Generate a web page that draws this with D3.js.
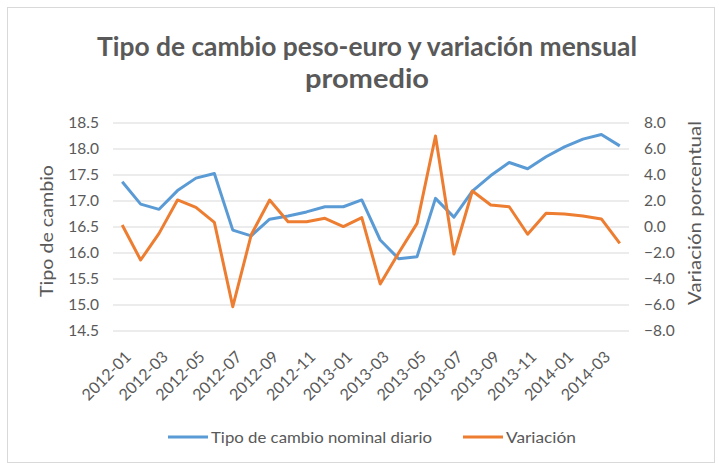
<!DOCTYPE html>
<html lang="es">
<head>
  <meta charset="UTF-8">
  <title>Tipo de cambio peso-euro</title>
  <script src="https://d3js.org/d3.v7.min.js"></script>
  <style>
    body { margin: 0; background: #fff; }
    text { font-family: Lato, "Open Sans", sans-serif; fill: #595959; }
  </style>
</head>
<body>
  <div id="chart"></div>
  <script>
    // months 2012-01 .. 2014-04
    const months = [
      "2012-01", "2012-02", "2012-03", "2012-04", "2012-05", "2012-06", "2012-07",
      "2012-08", "2012-09", "2012-10", "2012-11", "2012-12", "2013-01", "2013-02",
      "2013-03", "2013-04", "2013-05", "2013-06", "2013-07", "2013-08", "2013-09",
      "2013-10", "2013-11", "2013-12", "2014-01", "2014-02", "2014-03", "2014-04"
    ];
    const tipoCambio = [
      17.37, 16.94, 16.84, 17.20, 17.44, 17.53, 16.44, 16.33, 16.65, 16.71,
      16.79, 16.89, 16.89, 17.02, 16.25, 15.89, 15.93, 17.05, 16.69, 17.19,
      17.49, 17.74, 17.62, 17.85, 18.04, 18.19, 18.28, 18.06
    ];
    const variacion = [
      0.15, -2.54, -0.49, 2.08, 1.51, 0.36, -6.13, -0.6, 2.08, 0.41,
      0.41, 0.67, 0.03, 0.72, -4.38, -2.0, 0.28, 7.0, -2.08, 2.77,
      1.69, 1.56, -0.56, 1.05, 1.0, 0.85, 0.62, -1.26
    ];
    const leftTicks = [14.5, 15.0, 15.5, 16.0, 16.5, 17.0, 17.5, 18.0, 18.5];
    const rightTicks = [-8, -6, -4, -2, 0, 2, 4, 6, 8];
    const seriesNames = ["Tipo de cambio nominal diario", "Variación"];

    const W = 719, H = 463;
    const margin = { top: 123, right: 90, bottom: 132, left: 113 };
    const width = W - margin.left - margin.right;
    const height = H - margin.top - margin.bottom;

    const svg = d3.select("#chart").append("svg")
      .attr("width", W)
      .attr("height", H);

    // chart frame
    svg.append("rect")
      .attr("x", 7.5).attr("y", 7.5)
      .attr("width", W - 12).attr("height", H - 8)
      .attr("fill", "#fff")
      .attr("stroke", "#d9d9d9");

    const g = svg.append("g")
      .attr("transform", `translate(${margin.left},${margin.top})`);

    const x = d3.scaleBand().domain(months).range([0, width]);
    const yL = d3.scaleLinear().domain([14.5, 18.5]).range([height, 0]);
    const yR = d3.scaleLinear().domain([-8, 8]).range([height, 0]);

    // gridlines
    g.append("g")
      .selectAll("line")
      .data(leftTicks)
      .enter().append("line")
      .attr("x1", 0).attr("x2", width)
      .attr("y1", d => yL(d)).attr("y2", d => yL(d))
      .attr("stroke", "#d9d9d9");

    const axisL = g.append("g")
      .call(d3.axisLeft(yL).tickValues(leftTicks).tickFormat(d3.format(".1f")).tickSize(0).tickPadding(14));
    axisL.select(".domain").remove();
    axisL.selectAll("text").style("font-size", "15.5px").style("font-family", "Lato").attr("fill", "#595959");

    const axisR = g.append("g")
      .attr("transform", `translate(${width},0)`)
      .call(d3.axisRight(yR).tickValues(rightTicks).tickFormat(d3.format(".1f")).tickSize(0).tickPadding(15));
    axisR.select(".domain").remove();
    axisR.selectAll("text").style("font-size", "15.5px").style("font-family", "Lato").attr("fill", "#595959");

    const axisB = g.append("g")
      .attr("transform", `translate(0,${height})`)
      .call(d3.axisBottom(x).tickValues(months.filter((d, i) => i % 2 === 0)).tickSize(0));
    axisB.select(".domain").remove();
    axisB.selectAll("text")
      .style("font-size", "16px").style("font-family", "Lato").attr("fill", "#595959")
      .attr("text-anchor", "end")
      .attr("y", 0)
      .attr("dy", "0.35em")
      .attr("transform", "translate(6,23) rotate(-45)");

    // lines
    const lineL = d3.line().x((d, i) => x(months[i]) + x.bandwidth() / 2).y(d => yL(d));
    const lineR = d3.line().x((d, i) => x(months[i]) + x.bandwidth() / 2).y(d => yR(d));

    g.append("path").datum(tipoCambio)
      .attr("d", lineL)
      .attr("fill", "none")
      .attr("stroke", "#5b9bd5")
      .attr("stroke-width", 3)
      .attr("stroke-linejoin", "round");

    g.append("path").datum(variacion)
      .attr("d", lineR)
      .attr("fill", "none")
      .attr("stroke", "#ed7d31")
      .attr("stroke-width", 3)
      .attr("stroke-linejoin", "round");

    // title
    const title = svg.append("text")
      .attr("text-anchor", "middle")
      .style("font-size", "26px")
      .style("font-weight", "bold");
    title.append("tspan").attr("x", 367).attr("y", 56)
      .attr("textLength", 540).attr("lengthAdjust", "spacingAndGlyphs")
      .text("Tipo de cambio peso-euro y variación mensual");
    title.append("tspan").attr("x", 367).attr("y", 88)
      .attr("textLength", 124).attr("lengthAdjust", "spacingAndGlyphs")
      .text("promedio");

    // axis titles
    svg.append("text")
      .attr("transform", `translate(53,231) rotate(-90)`)
      .attr("text-anchor", "middle")
      .attr("textLength", 132).attr("lengthAdjust", "spacingAndGlyphs")
      .style("font-size", "18px")
      .text("Tipo de cambio");

    svg.append("text")
      .attr("transform", `translate(701,213) rotate(-90)`)
      .attr("text-anchor", "middle")
      .attr("textLength", 184).attr("lengthAdjust", "spacingAndGlyphs")
      .style("font-size", "18px")
      .text("Variación porcentual");

    // legend
    const legend = svg.append("g").attr("transform", "translate(0,437)");
    const items = [
      { name: seriesNames[0], color: "#5b9bd5", x: 168, w: 221 },
      { name: seriesNames[1], color: "#ed7d31", x: 463, w: 70 }
    ];
    items.forEach(it => {
      legend.append("line")
        .attr("x1", it.x).attr("x2", it.x + 40)
        .attr("stroke", it.color).attr("stroke-width", 3);
      legend.append("text")
        .attr("x", it.x + 43).attr("y", 0).attr("dy", "0.35em")
        .attr("textLength", it.w).attr("lengthAdjust", "spacingAndGlyphs")
        .style("font-size", "16px")
        .text(it.name);
    });
  </script>
</body>
</html>
